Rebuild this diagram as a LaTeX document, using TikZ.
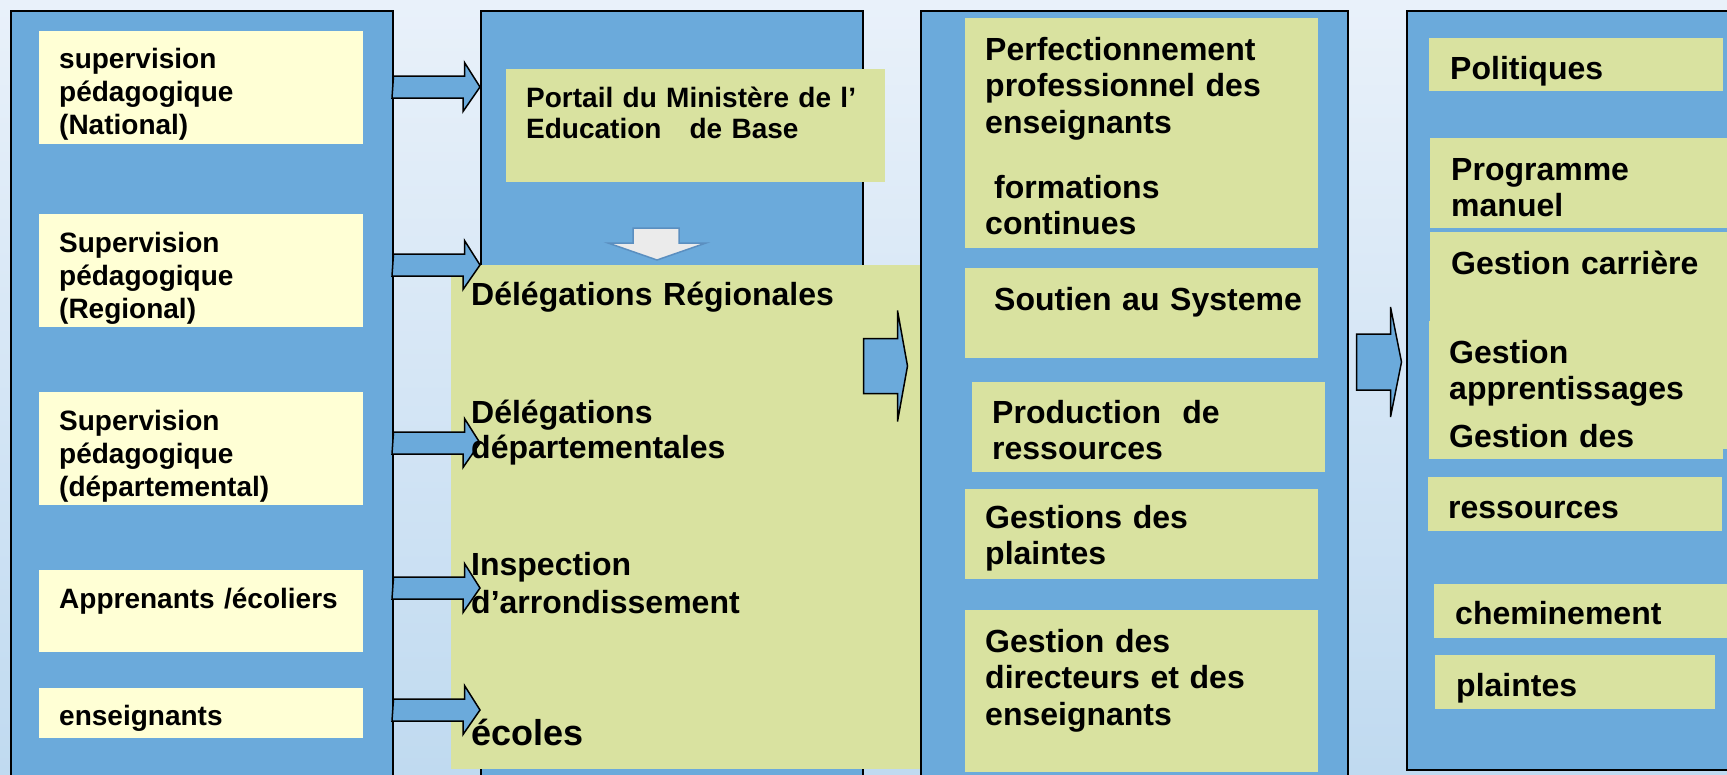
\documentclass[tikz,border=0pt]{standalone}
\usepackage{fontspec}
\setmainfont{Liberation Sans}

\definecolor{bgtop}{RGB}{233,241,250}
\definecolor{bgbot}{RGB}{192,218,240}
\definecolor{panelblue}{RGB}{107,170,219}
\definecolor{boxyellow}{RGB}{255,255,213}
\definecolor{boxgreen}{RGB}{217,226,160}
\definecolor{arrowgray}{RGB}{235,235,235}
\definecolor{arrowedge}{RGB}{91,143,192}

\begin{document}
\begin{tikzpicture}[x=1pt, y=-1pt,
    panel/.style={draw=black, line width=1.5pt, fill=panelblue, inner sep=0pt, anchor=north west},
    ybox/.style={fill=boxyellow, inner sep=0pt, anchor=north west},
    gbox/.style={fill=boxgreen, inner sep=0pt, anchor=north west},
    lbl/.style={anchor=base west, inner sep=0pt, align=left, text width=#1,
        font=\bfseries\fontsize{28}{33}\selectfont},
    lbl/.default=340pt,
    big/.style={font=\bfseries\fontsize{32}{36.7}\selectfont},
    barrow/.style={draw=black, line width=1.5pt, fill=panelblue, line join=miter},
    darrow/.style={draw=arrowedge, fill=arrowgray, line width=1.5pt}]

    % background
    \useasboundingbox (0,0) rectangle (1727,774);
    \clip (0,0) rectangle (1727,774);
    \fill [top color=bgtop, bottom color=bgbot] (0,0) rectangle (1727,774);

    % the four columns
    \node [panel, minimum width=382, minimum height=780] (colA) at (10,10) {};
    \node [panel, minimum width=382, minimum height=780] (colB) at (480,10) {};
    \node [panel, minimum width=427, minimum height=780] (colC) at (920,10) {};
    \node [panel, minimum width=340, minimum height=759] (colD) at (1406,10) {};

    % boxes, first column
    \node [ybox, minimum width=324, minimum height=113] (supN) at (39,31) {};
    \node [ybox, minimum width=324, minimum height=113] (supR) at (39,214) {};
    \node [ybox, minimum width=324, minimum height=113] (supD) at (39,392) {};
    \node [ybox, minimum width=324, minimum height=82] (appr) at (39,570) {};
    \node [ybox, minimum width=324, minimum height=50] (ens) at (39,688) {};

    % boxes, second column
    \node [gbox, minimum width=379, minimum height=113] (portail) at (506,69) {};
    \node [gbox, minimum width=469, minimum height=504] (deleg) at (451,265) {};

    % boxes, third column
    \node [gbox, minimum width=353, minimum height=230] (perf) at (965,18) {};
    \node [gbox, minimum width=353, minimum height=90] (soutien) at (965,268) {};
    \node [gbox, minimum width=353, minimum height=90] (prod) at (972,382) {};
    \node [gbox, minimum width=353, minimum height=90] (plaint) at (965,489) {};
    \node [gbox, minimum width=353, minimum height=162] (gdir) at (965,610) {};

    % boxes, fourth column
    \node [gbox, minimum width=294, minimum height=53] (polit) at (1429,38) {};
    \node [gbox, minimum width=310, minimum height=90] (progr) at (1430,138) {};
    \node [gbox, minimum width=310, minimum height=217] (carr) at (1430,232) {};
    \node [gbox, minimum width=294, minimum height=138] (apprent) at (1429,321) {};
    \node [gbox, minimum width=294, minimum height=54] (ress) at (1428,477) {};
    \node [gbox, minimum width=306, minimum height=54] (chem) at (1434,584) {};
    \node [gbox, minimum width=280, minimum height=54] (plt) at (1435,655) {};

    % arrows
    \draw [darrow] (633,228) -- (679,228) -- (679,243) -- (706,243) -- (657,260) -- (608,243) -- (633,243) -- cycle;
    \foreach \y in {87,265,443,588,710}
        \draw [barrow] (colA.east |- 0,\y) ++(0,-11) -- ++(71,0) -- ++(0,-13.5) -- (colB.west |- 0,\y)
            -- ++(-17,24.5) -- ++(0,-13.5) -- ++(-71,0) -- cycle;
    \draw [barrow] (colB.east |- 0,366) ++(0,-27.5) -- ++(34,0) -- ++(0,-28) -- ++(10,55.5)
        -- ++(-10,55.5) -- ++(0,-28) -- ++(-34,0) -- cycle;
    \draw [barrow] (colC.east |- 0,362) ++(8,-28) -- ++(34,0) -- ++(0,-27) -- ++(11,55)
        -- ++(-11,55) -- ++(0,-27) -- ++(-34,0) -- cycle;

    % texts
    \node [lbl] (tsupN) at (59,68) {supervision\\pédagogique\\(National)};
    \node [lbl] (tsupR) at (59,252) {Supervision\\pédagogique\\(Regional)};
    \node [lbl] (tsupD) at (59,430) {Supervision\\pédagogique\\(départemental)};
    \node [lbl] (tappr) at (59,608) {Apprenants /écoliers};
    \node [lbl] (tens) at (59,725) {enseignants};

    \node [lbl, font=\bfseries\fontsize{28}{31}\selectfont] (tportail) at (526,107) {Portail du Ministère de l’\\Education\ \ \ de Base};
    \node [lbl=390pt, big] (tregio) at (471,305) {Délégations Régionales};
    \node [lbl=390pt, font=\bfseries\fontsize{32}{35}\selectfont] (tdepart) at (471,423) {Délégations\\départementales};
    \node [lbl=390pt, font=\bfseries\fontsize{32}{38}\selectfont] (tinsp) at (471,575) {Inspection\\d’arrondissement};
    \node [lbl=390pt, font=\bfseries\fontsize{36}{40}\selectfont] (tecoles) at (471,745) {écoles};

    \node [lbl=320pt, big] (tperf) at (985,60) {Perfectionnement\\professionnel des\\enseignants\\[28pt]\hspace*{9pt}formations\\continues};
    \node [lbl=320pt, big] (tsoutien) at (994,310) {Soutien au Systeme};
    \node [lbl=320pt, big] (tprod) at (992,423) {Production\ \ de\\ressources};
    \node [lbl=320pt, big] (tplaint) at (985,528) {Gestions des\\plaintes};
    \node [lbl=320pt, big] (tgdir) at (985,652) {Gestion des\\directeurs et des\\enseignants};

    \node [lbl=260pt, big] (tpolit) at (1450,79) {Politiques};
    \node [lbl=260pt, big] (tprogr) at (1451,180) {Programme\\manuel};
    \node [lbl=260pt, big] (tcarr) at (1451,274) {Gestion carrière};
    \node [lbl=260pt, big] (tapprent) at (1449,363) {Gestion\\apprentissages};
    \node [lbl=260pt, big] (tgdes) at (1449,447) {Gestion des};
    \node [lbl=260pt, big] (tress) at (1448,518) {ressources};
    \node [lbl=260pt, big] (tchem) at (1455,624) {cheminement};
    \node [lbl=260pt, big] (tplt) at (1456,696) {plaintes};
\end{tikzpicture}
\end{document}
